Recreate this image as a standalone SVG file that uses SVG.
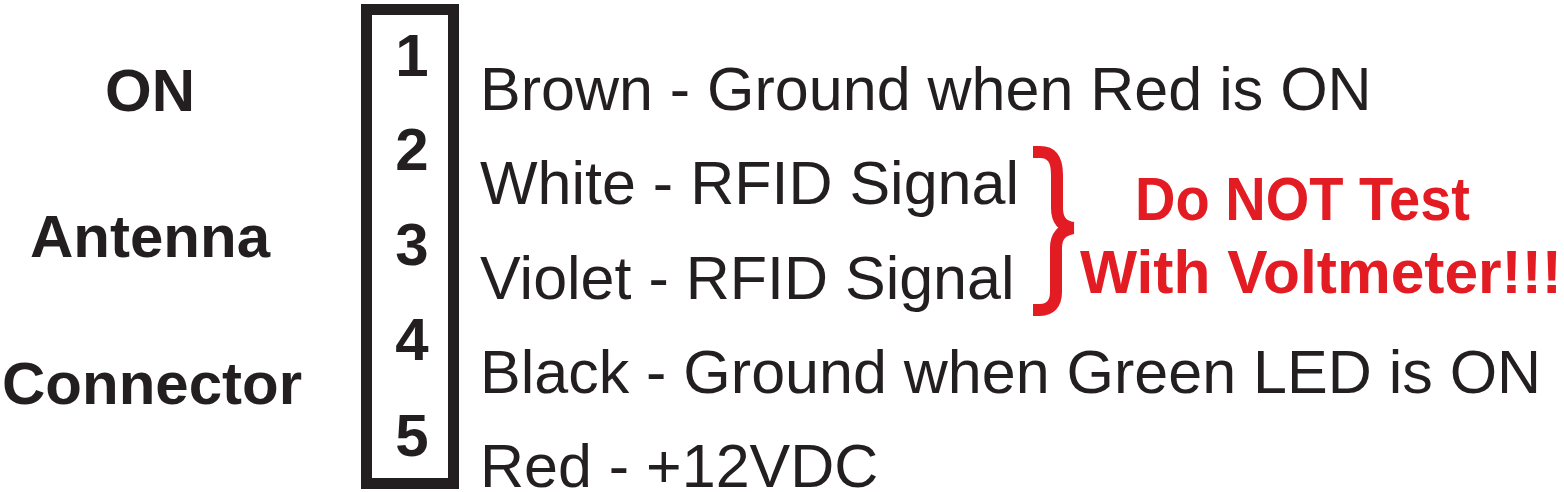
<svg xmlns="http://www.w3.org/2000/svg" width="1564" height="492" viewBox="0 0 1564 492">
<style>
.lbl{font-family:"Liberation Sans",Arial,sans-serif;font-weight:bold;font-size:60px;fill:#231f20;text-anchor:middle}
.num{font-family:"Liberation Sans",Arial,sans-serif;font-weight:bold;font-size:60px;fill:#231f20;text-anchor:middle}
.wire{font-family:"Liberation Sans",Arial,sans-serif;font-size:61px;fill:#231f20}
.warn{font-family:"Liberation Sans",Arial,sans-serif;font-weight:bold;font-size:61px;fill:#e31b23}
</style>
<rect width="1564" height="492" fill="#ffffff"/>
<g id="title">
<text class="lbl" x="150" y="111">ON</text>
<text class="lbl" x="150" y="257">Antenna</text>
<text class="lbl" x="152" y="404">Connector</text>
</g>
<g id="connector">
<rect x="366.5" y="9.5" width="87" height="474" fill="none" stroke="#231f20" stroke-width="11"/>
<text class="num" x="412" y="76">1</text>
<text class="num" x="412" y="170">2</text>
<text class="num" x="412" y="265">3</text>
<text class="num" x="412" y="360">4</text>
<text class="num" x="412" y="456">5</text>
</g>
<g id="wires">
<text class="wire" x="480" y="110">Brown - Ground when Red is ON</text>
<text class="wire" x="480" y="204">White - RFID Signal</text>
<text class="wire" x="480" y="299">Violet - RFID Signal</text>
<text class="wire" x="480" y="393">Black - Ground when Green LED is ON</text>
<text class="wire" x="480" y="487">Red - +12VDC</text>
</g>
<g id="connectors">
<path d="M1033,152 L1040,152 C1052,152 1057,160 1057,175 L1057,208 C1057,220 1062,226 1073,228 C1062,230 1056,236 1056,248 L1056,292 C1056,304 1050,310 1040,310 L1033,310" fill="none" stroke="#e31b23" stroke-width="12"/>
</g>
<g id="warning">
<text class="warn" x="1135" y="220" textLength="335" lengthAdjust="spacingAndGlyphs">Do NOT Test</text>
<text class="warn" x="1080" y="293" textLength="482" lengthAdjust="spacingAndGlyphs">With Voltmeter!!!</text>
</g>
</svg>
